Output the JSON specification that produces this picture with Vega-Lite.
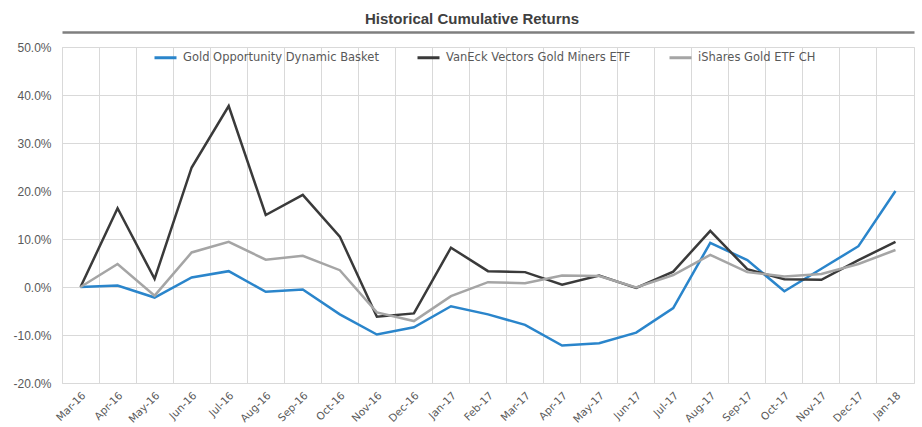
{
  "$schema": "https://vega.github.io/schema/vega-lite/v6.json",
  "width": 852,
  "height": 336,
  "autosize": "none",
  "padding": {"left": 62, "top": 47, "right": 8, "bottom": 44},
  "background": "white",
  "title": {"text": "Historical Cumulative Returns", "font": "Liberation Sans", "fontSize": 15, "fontWeight": "bold", "color": "#404040", "anchor": "middle", "dx": -16, "offset": 5},
  "config": {"view": {"stroke": "#d9d9d9", "strokeWidth": 1}},
  "datasets": {
    "d": [
      {"month": "Mar-16", "series": "Gold Opportunity Dynamic Basket", "value": 0.0},
      {"month": "Apr-16", "series": "Gold Opportunity Dynamic Basket", "value": 0.003},
      {"month": "May-16", "series": "Gold Opportunity Dynamic Basket", "value": -0.022},
      {"month": "Jun-16", "series": "Gold Opportunity Dynamic Basket", "value": 0.020},
      {"month": "Jul-16", "series": "Gold Opportunity Dynamic Basket", "value": 0.033},
      {"month": "Aug-16", "series": "Gold Opportunity Dynamic Basket", "value": -0.010},
      {"month": "Sep-16", "series": "Gold Opportunity Dynamic Basket", "value": -0.005},
      {"month": "Oct-16", "series": "Gold Opportunity Dynamic Basket", "value": -0.057},
      {"month": "Nov-16", "series": "Gold Opportunity Dynamic Basket", "value": -0.099},
      {"month": "Dec-16", "series": "Gold Opportunity Dynamic Basket", "value": -0.084},
      {"month": "Jan-17", "series": "Gold Opportunity Dynamic Basket", "value": -0.040},
      {"month": "Feb-17", "series": "Gold Opportunity Dynamic Basket", "value": -0.057},
      {"month": "Mar-17", "series": "Gold Opportunity Dynamic Basket", "value": -0.079},
      {"month": "Apr-17", "series": "Gold Opportunity Dynamic Basket", "value": -0.122},
      {"month": "May-17", "series": "Gold Opportunity Dynamic Basket", "value": -0.117},
      {"month": "Jun-17", "series": "Gold Opportunity Dynamic Basket", "value": -0.095},
      {"month": "Jul-17", "series": "Gold Opportunity Dynamic Basket", "value": -0.044},
      {"month": "Aug-17", "series": "Gold Opportunity Dynamic Basket", "value": 0.092},
      {"month": "Sep-17", "series": "Gold Opportunity Dynamic Basket", "value": 0.056},
      {"month": "Oct-17", "series": "Gold Opportunity Dynamic Basket", "value": -0.009},
      {"month": "Nov-17", "series": "Gold Opportunity Dynamic Basket", "value": 0.038},
      {"month": "Dec-17", "series": "Gold Opportunity Dynamic Basket", "value": 0.085},
      {"month": "Jan-18", "series": "Gold Opportunity Dynamic Basket", "value": 0.200},
      {"month": "Mar-16", "series": "VanEck Vectors Gold Miners ETF", "value": 0.0},
      {"month": "Apr-16", "series": "VanEck Vectors Gold Miners ETF", "value": 0.164},
      {"month": "May-16", "series": "VanEck Vectors Gold Miners ETF", "value": 0.017},
      {"month": "Jun-16", "series": "VanEck Vectors Gold Miners ETF", "value": 0.249},
      {"month": "Jul-16", "series": "VanEck Vectors Gold Miners ETF", "value": 0.377},
      {"month": "Aug-16", "series": "VanEck Vectors Gold Miners ETF", "value": 0.150},
      {"month": "Sep-16", "series": "VanEck Vectors Gold Miners ETF", "value": 0.192},
      {"month": "Oct-16", "series": "VanEck Vectors Gold Miners ETF", "value": 0.105},
      {"month": "Nov-16", "series": "VanEck Vectors Gold Miners ETF", "value": -0.062},
      {"month": "Dec-16", "series": "VanEck Vectors Gold Miners ETF", "value": -0.055},
      {"month": "Jan-17", "series": "VanEck Vectors Gold Miners ETF", "value": 0.082},
      {"month": "Feb-17", "series": "VanEck Vectors Gold Miners ETF", "value": 0.033},
      {"month": "Mar-17", "series": "VanEck Vectors Gold Miners ETF", "value": 0.031},
      {"month": "Apr-17", "series": "VanEck Vectors Gold Miners ETF", "value": 0.005},
      {"month": "May-17", "series": "VanEck Vectors Gold Miners ETF", "value": 0.024},
      {"month": "Jun-17", "series": "VanEck Vectors Gold Miners ETF", "value": -0.002},
      {"month": "Jul-17", "series": "VanEck Vectors Gold Miners ETF", "value": 0.032},
      {"month": "Aug-17", "series": "VanEck Vectors Gold Miners ETF", "value": 0.117},
      {"month": "Sep-17", "series": "VanEck Vectors Gold Miners ETF", "value": 0.037},
      {"month": "Oct-17", "series": "VanEck Vectors Gold Miners ETF", "value": 0.016},
      {"month": "Nov-17", "series": "VanEck Vectors Gold Miners ETF", "value": 0.015},
      {"month": "Dec-17", "series": "VanEck Vectors Gold Miners ETF", "value": 0.056},
      {"month": "Jan-18", "series": "VanEck Vectors Gold Miners ETF", "value": 0.094},
      {"month": "Mar-16", "series": "iShares Gold ETF CH", "value": 0.0},
      {"month": "Apr-16", "series": "iShares Gold ETF CH", "value": 0.048},
      {"month": "May-16", "series": "iShares Gold ETF CH", "value": -0.018},
      {"month": "Jun-16", "series": "iShares Gold ETF CH", "value": 0.072},
      {"month": "Jul-16", "series": "iShares Gold ETF CH", "value": 0.094},
      {"month": "Aug-16", "series": "iShares Gold ETF CH", "value": 0.057},
      {"month": "Sep-16", "series": "iShares Gold ETF CH", "value": 0.065},
      {"month": "Oct-16", "series": "iShares Gold ETF CH", "value": 0.035},
      {"month": "Nov-16", "series": "iShares Gold ETF CH", "value": -0.053},
      {"month": "Dec-16", "series": "iShares Gold ETF CH", "value": -0.071},
      {"month": "Jan-17", "series": "iShares Gold ETF CH", "value": -0.019},
      {"month": "Feb-17", "series": "iShares Gold ETF CH", "value": 0.010},
      {"month": "Mar-17", "series": "iShares Gold ETF CH", "value": 0.008},
      {"month": "Apr-17", "series": "iShares Gold ETF CH", "value": 0.024},
      {"month": "May-17", "series": "iShares Gold ETF CH", "value": 0.023},
      {"month": "Jun-17", "series": "iShares Gold ETF CH", "value": -0.001},
      {"month": "Jul-17", "series": "iShares Gold ETF CH", "value": 0.025},
      {"month": "Aug-17", "series": "iShares Gold ETF CH", "value": 0.067},
      {"month": "Sep-17", "series": "iShares Gold ETF CH", "value": 0.031},
      {"month": "Oct-17", "series": "iShares Gold ETF CH", "value": 0.022},
      {"month": "Nov-17", "series": "iShares Gold ETF CH", "value": 0.027},
      {"month": "Dec-17", "series": "iShares Gold ETF CH", "value": 0.048},
      {"month": "Jan-18", "series": "iShares Gold ETF CH", "value": 0.077}
    ]
  },
  "data": {"name": "d"},
  "resolve": {"axis": {"x": "independent"}},
  "layer": [
    {
      "mark": {"type": "line", "strokeWidth": 2.5, "strokeJoin": "miter"},
      "encoding": {
        "x": {
          "field": "month", "type": "ordinal", "sort": null,
          "scale": {"type": "band", "paddingInner": 0, "paddingOuter": 0},
          "axis": {"title": null, "bandPosition": 0, "labelAngle": -45, "labelPadding": 7, "ticks": false, "domain": false, "grid": true, "gridColor": "#d9d9d9", "gridWidth": 1, "labelFont": "DejaVu Sans", "labelFontSize": 10.5, "labelColor": "#595959"}
        },
        "y": {
          "field": "value", "type": "quantitative",
          "scale": {"domain": [-0.2, 0.5], "nice": false, "zero": false},
          "axis": {"title": null, "values": [-0.2, -0.1, 0, 0.1, 0.2, 0.3, 0.4, 0.5], "labelExpr": "replace(format(datum.value, '.1%'), '\u2212', '-')", "ticks": false, "domain": false, "grid": true, "gridColor": "#d9d9d9", "gridWidth": 1, "labelPadding": 11, "labelFont": "Liberation Sans", "labelFontSize": 12, "labelColor": "#595959"}
        },
        "color": {
          "field": "series", "type": "nominal",
          "scale": {"domain": ["Gold Opportunity Dynamic Basket", "VanEck Vectors Gold Miners ETF", "iShares Gold ETF CH"], "range": ["#2a85cb", "#3a3a3a", "#a5a5a5"]},
          "legend": {"title": null, "orient": "none", "legendX": 91, "legendY": -2, "direction": "horizontal", "symbolType": "stroke", "symbolSize": 484, "symbolStrokeWidth": 3, "labelOffset": 5, "columnPadding": 32, "labelFont": "DejaVu Sans", "labelFontSize": 11.5, "labelColor": "#595959", "labelLimit": 400}
        }
      }
    },
    {
      "mark": {"type": "point", "opacity": 0},
      "encoding": {
        "x": {
          "field": "month", "type": "ordinal", "sort": null,
          "axis": {"orient": "top", "offset": 15, "title": null, "labels": false, "ticks": false, "grid": false, "domain": true, "domainColor": "#7f7f7f", "domainWidth": 2.5}
        }
      }
    }
  ]
}
